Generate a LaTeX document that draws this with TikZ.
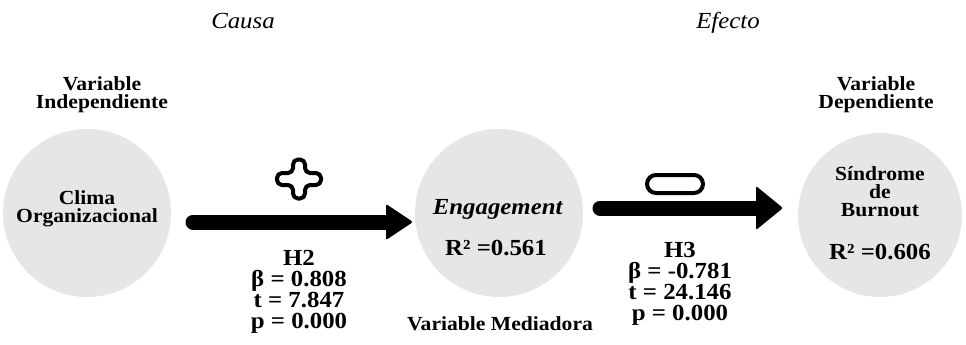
\documentclass[tikz,border=0pt]{standalone}
\usepackage{fontspec}
\usetikzlibrary{calc}
\setmainfont{Liberation Serif}[FakeStretch=1.08]
\definecolor{cgray}{HTML}{E6E6E6}
\begin{document}
\begin{tikzpicture}[x=1pt,y=-1pt,
  circ/.style={circle,fill=cgray,minimum size=168pt,inner sep=0pt},
  lbl/.style={font=\bfseries\fontsize{20}{18}\selectfont,align=center,anchor=base,inner sep=0pt},
  big/.style={font=\bfseries\fontsize{23}{21}\selectfont,align=center,anchor=base,inner sep=0pt},
  stat/.style={font=\bfseries\fontsize{23}{21}\selectfont,align=center,anchor=base,inner sep=0pt},
  ttl/.style={font=\itshape\fontsize{23}{23}\selectfont,anchor=base,inner sep=0pt},
  shaft/.style={line width=15pt,line cap=round},
  sign/.style={line width=4pt,rounded corners=5pt,line join=round}]
\useasboundingbox (0,0) rectangle (966,345);
% titles
\node[ttl] (causa) at (243,29) {Causa};
\node[ttl] (efecto) at (728,29) {Efecto};
% circles
\node[circ] (L) at (87,213) {};
\node[circ] (M) at (499,213) {};
\node[circ,minimum size=164pt] (R) at (880,215) {};
% labels above (anchor = baseline of last line)
\node[lbl] (vi) at (102,108) {Variable\\Independiente};
\node[lbl] (vd) at (876,108) {Variable\\Dependiente};
% inner texts
\node[lbl] (cl) at (87,222) {Clima\\Organizacional};
\node[big] (en) at (498,214) {\textit{Engagement}};
\node[big] (r1) at (496,255) {R² =0.561};
\node[lbl] (sb) at (880,216) {Síndrome\\de\\Burnout};
\node[big] (r2) at (880,259) {R² =0.606};
\node[lbl] (vm) at (500,330) {Variable Mediadora};
% statistics
\node[stat] (h2) at (299,328) {H2\\β = 0.808\\t = 7.847\\p = 0.000};
\node[stat] (h3) at (680,320) {H3\\β = -0.781\\t = 24.146\\p = 0.000};
% arrows
\coordinate (a1s) at (193,222);
\coordinate (a1e) at (392,222);
\coordinate (a1t) at (413,222);
\draw[shaft] (a1s) -- (a1e);
\fill[rounded corners=2pt] (a1t) -- ++(-27,-18) -- ++(0,36) -- cycle;
\coordinate (a2s) at (600,208);
\coordinate (a2e) at (762,208);
\coordinate (a2t) at (783,208);
\draw[shaft] (a2s) -- (a2e);
\fill[rounded corners=2pt] (a2t) -- ++(-27,-22) -- ++(0,44) -- cycle;
% plus sign
\coordinate (pc) at (299,179);
\draw[sign] ($(pc)+(-6,-19.5)$) -- ++(12,0) -- ++(0,13.5) -- ++(16,0) -- ++(0,12) -- ++(-16,0)
  -- ++(0,13.5) -- ++(-12,0) -- ++(0,-13.5) -- ++(-16,0) -- ++(0,-12) -- ++(16,0) -- cycle;
% minus sign
\coordinate (mc) at (675,184);
\draw[line width=4pt,rounded corners=9pt] ($(mc)+(-28,-9)$) rectangle ($(mc)+(28,9)$);
\end{tikzpicture}
\end{document}
